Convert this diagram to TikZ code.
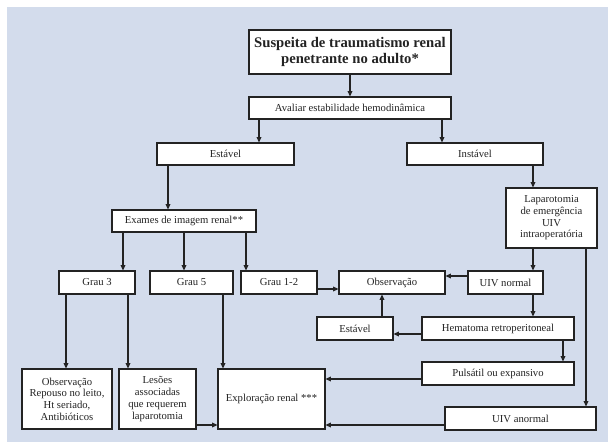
\documentclass[tikz,border=0pt]{standalone}
\usepackage{fontspec}
\setmainfont{Liberation Serif}
\usetikzlibrary{arrows.meta,calc}
\definecolor{fundo}{RGB}{211,220,236}
\definecolor{texto}{RGB}{35,35,35}

\begin{document}
\begin{tikzpicture}[x=0.75pt,y=-0.75pt,
	caixa/.style 2 args={draw=texto, fill=white, line width=0.9pt, text=texto, align=center, inner sep=1pt,
		font=\fontsize{8}{8.8}\selectfont, minimum width=#1*0.75pt, minimum height=#2*0.75pt},
	seta/.style={draw=texto, line width=0.8pt, -{Triangle[length=4pt,width=3.6pt]}}]
		\useasboundingbox (0,0) rectangle (608,442);
		\fill[fundo] (7,7) rectangle (608,442);

		\node[caixa={202}{44}, line width=1.4pt, font=\fontsize{11}{12.5}\selectfont\bfseries] (susp) at (350,52)
			{Suspeita de traumatismo renal\\penetrante no adulto*};
		\node[caixa={202}{22}] (aval) at (350,108) {Avaliar estabilidade hemodinâmica};
		\node[caixa={137}{22}] (est) at (225.5,154) {Estável};
		\node[caixa={136}{22}] (inst) at (475,154) {Instável};
		\node[caixa={144}{22}] (exames) at (184,221) {Exames de imagem renal**};
		\node[caixa={91}{60}] (lap) at (551.5,218) {Laparotomia\\de emergência\\UIV\\intraoperatória};
		\node[caixa={76}{23}] (g3) at (97,282.5) {Grau 3};
		\node[caixa={83}{23}] (g5) at (191.5,282.5) {Grau 5};
		\node[caixa={76}{23}] (g12) at (279,282.5) {Grau 1-2};
		\node[caixa={106}{23}] (obs) at (392,282.5) {Observação};
		\node[caixa={75}{23}] (uivn) at (505.5,282.5) {UIV normal};
		\node[caixa={76}{23}] (est2) at (355,328.5) {Estável};
		\node[caixa={152}{23}] (hema) at (498,328.5) {Hematoma retroperitoneal};
		\node[caixa={152}{23}] (puls) at (498,373.5) {Pulsátil ou expansivo};
		\node[caixa={151}{23}] (uiva) at (520.5,418.5) {UIV anormal};
		\node[caixa={90}{60}] (obsrep) at (67,399) {Observação\\Repouso no leito,\\Ht seriado,\\Antibióticos};
		\node[caixa={77}{60}] (les) at (157.5,399) {Lesões\\associadas\\que requerem\\laparotomia};
		\node[caixa={107}{60}] (expl) at (271.5,399) {Exploração renal ***};

		\draw[seta] (susp.south) -- (aval.north);
		\draw[seta] ($(aval.south)+(-91,0)$) -- ($(est.north)+(33.5,0)$);
		\draw[seta] ($(aval.south)+(92,0)$) -- ($(inst.north)+(-33,0)$);
		\draw[seta] ($(est.south)+(-57.5,0)$) -- ($(exames.north)+(-16,0)$);
		\draw[seta] ($(inst.south)+(58,0)$) -- ($(lap.north)+(-18.5,0)$);
		\draw[seta] ($(exames.south)+(-61,0)$) -- ($(g3.north)+(26,0)$);
		\draw[seta] (exames.south) -- ($(g5.north)+(-7.5,0)$);
		\draw[seta] ($(exames.south)+(62,0)$) -- ($(g12.north)+(-33,0)$);
		\draw[seta] ($(lap.south)+(-18.5,0)$) -- ($(uivn.north)+(27.5,0)$);
		\draw[seta] ($(lap.south)+(34.5,0)$) -- ($(uiva.north)+(65.5,0)$);
		\draw[seta] ($(g12.east)+(0,6.5)$) -- ($(obs.west)+(0,6.5)$);
		\draw[seta] ($(uivn.west)+(0,-6.5)$) -- ($(obs.east)+(0,-6.5)$);
		\draw[seta] ($(uivn.south)+(27.5,0)$) -- ($(hema.north)+(35,0)$);
		\draw[seta] ($(hema.west)+(0,5.5)$) -- ($(est2.east)+(0,5.5)$);
		\draw[seta] ($(est2.north)+(27,0)$) -- ($(obs.south)+(-10,0)$);
		\draw[seta] ($(hema.south)+(65,0)$) -- ($(puls.north)+(65,0)$);
		\draw[seta] ($(puls.west)+(0,5.5)$) -- ($(expl.east)+(0,-20)$);
		\draw[seta] ($(uiva.west)+(0,6.5)$) -- ($(expl.east)+(0,26)$);
		\draw[seta] ($(g3.south)+(-31,0)$) -- ($(obsrep.north)+(-1,0)$);
		\draw[seta] ($(g3.south)+(31,0)$) -- ($(les.north)+(-29.5,0)$);
		\draw[seta] ($(g5.south)+(31.5,0)$) -- ($(expl.north)+(-48.5,0)$);
		\draw[seta] ($(les.east)+(0,26)$) -- ($(expl.west)+(0,26)$);
	\end{tikzpicture}
\end{document}
